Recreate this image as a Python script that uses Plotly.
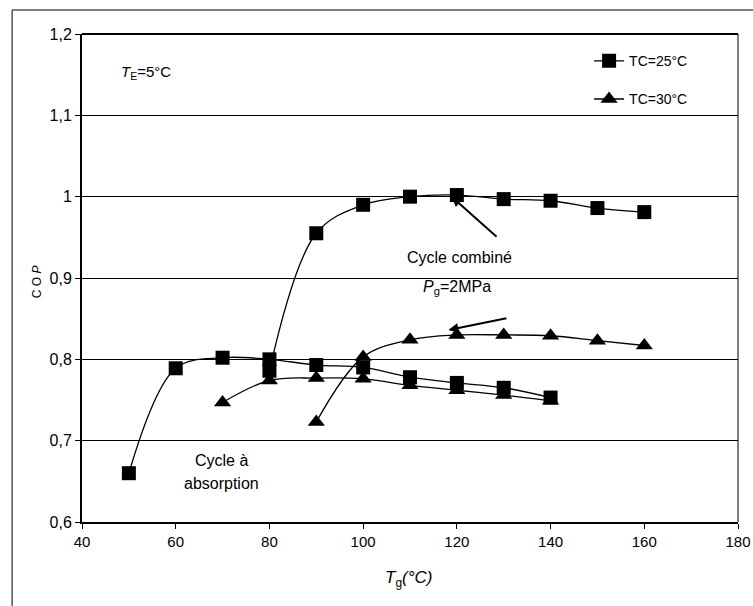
import plotly.graph_objects as go

# Generator temperature Tg (°C) and COP for each cycle / condenser temperature
tg_abs_25 = [50, 60, 70, 80, 90, 100, 110, 120, 130, 140]
cop_abs_25 = [0.660, 0.789, 0.802, 0.800, 0.793, 0.790, 0.778, 0.771, 0.765, 0.753]

tg_abs_30 = [70, 80, 90, 100, 110, 120, 130, 140]
cop_abs_30 = [0.747, 0.774, 0.777, 0.776, 0.768, 0.762, 0.756, 0.749]

tg_comb_25 = [80, 90, 100, 110, 120, 130, 140, 150, 160]
cop_comb_25 = [0.786, 0.955, 0.990, 1.000, 1.002, 0.997, 0.995, 0.986, 0.981]

tg_comb_30 = [90, 100, 110, 120, 130, 140, 150, 160]
cop_comb_30 = [0.723, 0.803, 0.824, 0.830, 0.830, 0.829, 0.823, 0.817]

x_ticks = [40, 60, 80, 100, 120, 140, 160, 180]
y_ticks = [0.6, 0.7, 0.8, 0.9, 1.0, 1.1, 1.2]
y_tick_text = ["0,6", "0,7", "0,8", "0,9", "1", "1,1", "1,2"]

FONT = "Liberation Sans, Arial, sans-serif"
SQUARE = dict(symbol="square", size=14, color="black")
TRIANGLE = dict(symbol="triangle-up", size=15, color="black")
LINE = dict(color="black", width=1.3, shape="spline", smoothing=1)

fig = go.Figure()
fig.add_trace(go.Scatter(x=tg_comb_25, y=cop_comb_25, mode="lines+markers",
                         name="TC=25°C", marker=SQUARE, line=LINE,
                         legendgroup="a"))
fig.add_trace(go.Scatter(x=tg_abs_25, y=cop_abs_25, mode="lines+markers",
                         name="TC=25°C", marker=SQUARE, line=LINE,
                         legendgroup="a", showlegend=False))
fig.add_trace(go.Scatter(x=tg_comb_30, y=cop_comb_30, mode="lines+markers",
                         name="TC=30°C", marker=TRIANGLE, line=LINE,
                         legendgroup="b"))
fig.add_trace(go.Scatter(x=tg_abs_30, y=cop_abs_30, mode="lines+markers",
                         name="TC=30°C", marker=TRIANGLE, line=LINE,
                         legendgroup="b", showlegend=False))

annotations = [
    dict(x=48, y=1.153, xref="x", yref="y", xanchor="left",
         text="<i>T</i><sub>E</sub>=5°C", showarrow=False,
         font=dict(size=15)),
    dict(x=120.5, y=0.925, xref="x", yref="y", text="Cycle combiné",
         showarrow=False, font=dict(size=16)),
    dict(x=120, y=0.888, xref="x", yref="y",
         text="<i>P</i><sub>g</sub>=2MPa", showarrow=False,
         font=dict(size=16)),
    dict(x=69.7, y=0.676, xref="x", yref="y", text="Cycle à",
         showarrow=False, font=dict(size=16)),
    dict(x=69.7, y=0.647, xref="x", yref="y", text="absorption",
         showarrow=False, font=dict(size=16)),
    # arrows pointing at the combined-cycle curves
    dict(x=118.9, y=1.000, xref="x", yref="y", ax=128.8, ay=0.949,
         axref="x", ayref="y", text="", showarrow=True, arrowhead=2,
         arrowsize=1, arrowwidth=2, arrowcolor="black"),
    dict(x=118.2, y=0.836, xref="x", yref="y", ax=130.9, ay=0.851,
         axref="x", ayref="y", text="", showarrow=True, arrowhead=2,
         arrowsize=1, arrowwidth=2, arrowcolor="black"),
    # axis titles
    dict(x=109.7, y=-0.143, xref="x", yref="paper",
         text="<i>T</i><sub>g</sub><i>(°C)</i>", showarrow=False,
         font=dict(size=17)),
    dict(x=-0.082, y=0.895, xref="paper", yref="y", text="C O <i>P</i>",
         textangle=-90, showarrow=False, font=dict(size=12)),
]

shapes = [
    # outer chart frame (left and top edges)
    dict(type="line", xref="paper", yref="paper", x0=-0.1065, x1=-0.1065,
         y0=-0.3, y1=1.049, line=dict(color="#555", width=1.5)),
    dict(type="line", xref="paper", yref="paper", x0=-0.1065, x1=1.03,
         y0=1.049, y1=1.049, line=dict(color="#555", width=1.5)),
    # plot area top and right edges
    dict(type="line", xref="paper", yref="paper", x0=0, x1=1, y0=1, y1=1,
         line=dict(color="black", width=2)),
    dict(type="line", xref="paper", yref="paper", x0=1, x1=1, y0=0, y1=1,
         line=dict(color="black", width=1)),
]

fig.update_layout(
    width=753, height=606,
    margin=dict(l=82, r=15, t=34, b=84, autoexpand=False),
    paper_bgcolor="white", plot_bgcolor="white",
    font=dict(family=FONT, color="black"),
    xaxis=dict(range=[40, 180], tickvals=x_ticks, ticks="outside",
               ticklen=5, tickcolor="black", showgrid=False,
               showline=True, linecolor="black", linewidth=2,
               zeroline=False, tickfont=dict(size=15),
               ticklabeloverflow="allow", automargin=False),
    yaxis=dict(range=[0.6, 1.2], tickvals=y_ticks, ticktext=y_tick_text,
               ticks="outside", ticklen=5, tickcolor="black",
               showgrid=True, gridcolor="black", gridwidth=1.2,
               showline=True, linecolor="black", linewidth=2,
               zeroline=False, tickfont=dict(size=16), automargin=False),
    showlegend=True,
    legend=dict(x=0.773, y=0.977, xanchor="left", yanchor="top",
                bgcolor="rgba(0,0,0,0)", font=dict(size=14),
                tracegroupgap=17),
    annotations=annotations,
    shapes=shapes,
)

fig.write_html("out.html")
